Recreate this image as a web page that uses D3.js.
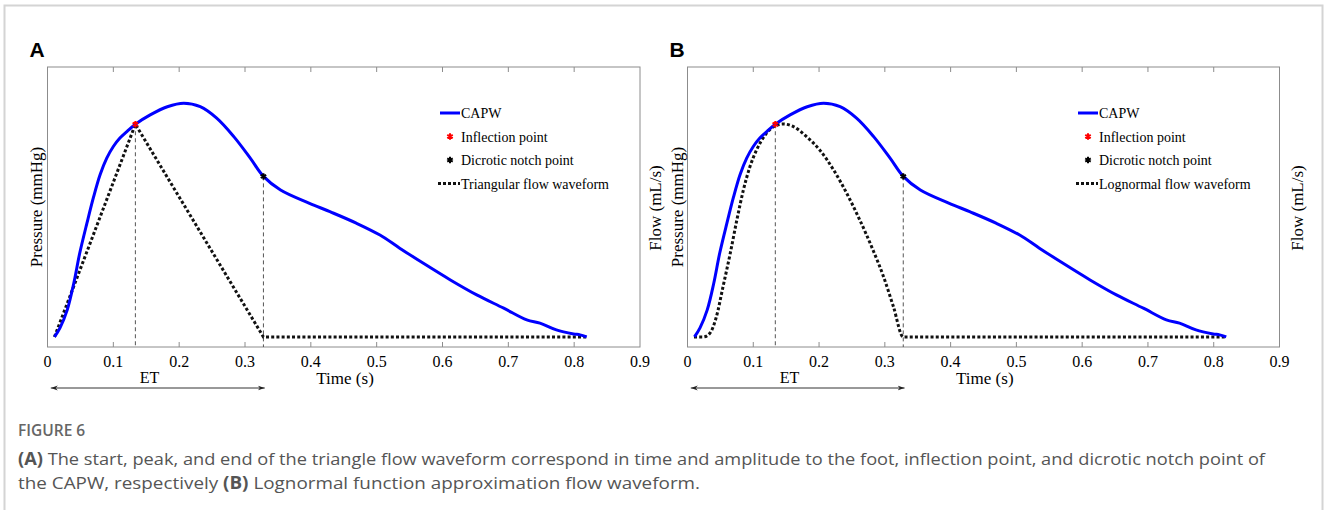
<!DOCTYPE html>
<html>
<head>
<meta charset="utf-8">
<script src="https://cdn.jsdelivr.net/npm/d3@7"></script>
<style>
  body { margin: 0; background: #fff; }
  svg { display: block; }
</style>
</head>
<body>
<svg id="fig" width="1328" height="510"></svg>
<script>
// time axis (s)
var timeTicks = [0, 0.1, 0.2, 0.3, 0.4, 0.5, 0.6, 0.7, 0.8, 0.9];
var tickLabels = ["0", "0.1", "0.2", "0.3", "0.4", "0.5", "0.6", "0.7", "0.8", "0.9"];

// CAPW, pressure normalised (foot = 0, peak = 1)
var capwTime = [0.0106, 0.019, 0.030, 0.040, 0.049, 0.060, 0.070, 0.080, 0.090, 0.100, 0.110, 0.121, 0.1335,
                0.156, 0.182, 0.207, 0.232, 0.257, 0.283, 0.308, 0.328, 0.354, 0.398, 0.429, 0.469,
                0.505, 0.535, 0.571, 0.612, 0.652, 0.693, 0.728, 0.748, 0.773, 0.799, 0.809, 0.819];
var capwPressure = [0.0, 0.039, 0.116, 0.231, 0.359, 0.488, 0.599, 0.695, 0.765, 0.815, 0.851, 0.880, 0.910,
                    0.950, 0.985, 1.0, 0.985, 0.936, 0.857, 0.765, 0.687, 0.629, 0.572, 0.536, 0.487,
                    0.436, 0.380, 0.315, 0.244, 0.180, 0.123, 0.073, 0.059, 0.030, 0.013, 0.009, 0.0];

// triangular flow (panel A)
var triTime = [0.0106, 0.1335, 0.328, 0.819];
var triFlow = [0, 0.910, 0, 0];

// lognormal flow (panel B)
var logTime = [0.0099, 0.024, 0.034, 0.044, 0.054, 0.065, 0.075, 0.085, 0.095, 0.105, 0.118, 0.133,
               0.146, 0.161, 0.181, 0.201, 0.222, 0.242, 0.262, 0.282, 0.298, 0.313, 0.328, 0.819];
var logFlow = [0, 0, 0.016, 0.087, 0.215, 0.358, 0.50, 0.629, 0.729, 0.80, 0.864, 0.903,
               0.911, 0.90, 0.857, 0.80, 0.715, 0.615, 0.50, 0.372, 0.258, 0.13, 0, 0];

var inflectionPt = [0.1335, 0.910];
var dicroticPt = [0.328, 0.687];
var etRange = [0.005, 0.33];

var serif = "'Liberation Serif', 'Times New Roman', serif";
var svg = d3.select("#fig");

// outer frame
svg.append("rect")
  .attr("x", 4.5).attr("y", 5.5).attr("width", 1318).attr("height", 520)
  .attr("fill", "none").attr("stroke", "#d4d4d4").attr("stroke-width", 2);

function drawPanel(letter, xRange, flowT, flowV, flowCurve, flowName, legendX, pressLabelX, flowLabelX) {
    var x = d3.scaleLinear().domain([0, 0.9]).range(xRange);
    var y = d3.scaleLinear().domain([-0.043, 1.155]).range([347, 67]);
    var g = svg.append("g");

    // panel letter
    g.append("text")
      .attr("x", xRange[0] - 18).attr("y", 57)
      .attr("font-family", "'Liberation Sans', Arial, sans-serif")
      .attr("font-weight", "bold").attr("font-size", 21)
      .text(letter);

    // box
    g.append("rect")
      .attr("x", x(0)).attr("y", y.range()[1])
      .attr("width", x(0.9) - x(0)).attr("height", y.range()[0] - y.range()[1])
      .attr("fill", "none").attr("stroke", "#8c8c8c").attr("stroke-width", 1);

    // ticks top & bottom, inward
    var inner = timeTicks.slice(1, -1);
    g.selectAll(".tb").data(inner).enter().append("line")
      .attr("x1", d => x(d)).attr("x2", d => x(d))
      .attr("y1", 347).attr("y2", 342)
      .attr("stroke", "#8c8c8c");
    g.selectAll(".tt").data(inner).enter().append("line")
      .attr("x1", d => x(d)).attr("x2", d => x(d))
      .attr("y1", 67).attr("y2", 72)
      .attr("stroke", "#8c8c8c");

    g.selectAll(".tl").data(timeTicks).enter().append("text")
      .attr("x", d => x(d)).attr("y", 367)
      .attr("text-anchor", "middle")
      .attr("font-family", serif).attr("font-size", 16)
      .text((d, i) => tickLabels[i]);

    g.append("text")
      .attr("x", x(0.452)).attr("y", 384)
      .attr("text-anchor", "middle")
      .attr("font-family", serif).attr("font-size", 17)
      .text("Time (s)");

    // axis titles
    g.append("text")
      .attr("transform", "translate(" + pressLabelX + ",207) rotate(-90)")
      .attr("text-anchor", "middle")
      .attr("font-family", serif).attr("font-size", 17)
      .text("Pressure (mmHg)");
    g.append("text")
      .attr("transform", "translate(" + flowLabelX + ",208) rotate(-90)")
      .attr("text-anchor", "middle")
      .attr("font-family", serif).attr("font-size", 17)
      .text("Flow (mL/s)");

    // ET arrow
    var defsId = "arr" + letter;
    var defs = svg.append("defs");
    defs.append("marker").attr("id", defsId + "e")
      .attr("viewBox", "0 0 10 10").attr("refX", 10).attr("refY", 5)
      .attr("markerWidth", 7).attr("markerHeight", 7).attr("orient", "auto")
      .append("path").attr("d", "M0,1.5 L10,5 L0,8.5 L3,5 Z").attr("fill", "#222");
    defs.append("marker").attr("id", defsId + "s")
      .attr("viewBox", "0 0 10 10").attr("refX", 0).attr("refY", 5)
      .attr("markerWidth", 7).attr("markerHeight", 7).attr("orient", "auto")
      .append("path").attr("d", "M10,1.5 L0,5 L10,8.5 L7,5 Z").attr("fill", "#222");
    g.append("line")
      .attr("x1", x(etRange[0])).attr("x2", x(etRange[1]))
      .attr("y1", 388).attr("y2", 388)
      .attr("stroke", "#333").attr("stroke-width", 1)
      .attr("marker-start", "url(#" + defsId + "s)")
      .attr("marker-end", "url(#" + defsId + "e)");
    g.append("text")
      .attr("x", x(0.155)).attr("y", 383)
      .attr("text-anchor", "middle")
      .attr("font-family", serif).attr("font-size", 16)
      .text("ET");

    // dashed verticals
    [inflectionPt, dicroticPt].forEach(function(p) {
        g.append("line")
          .attr("x1", x(p[0])).attr("x2", x(p[0]))
          .attr("y1", y(p[1])).attr("y2", 347)
          .attr("stroke", "#555").attr("stroke-width", 1)
          .attr("stroke-dasharray", "4,3");
    });

    // flow curve
    var flowLine = d3.line().x(d => x(d[0])).y(d => y(d[1])).curve(flowCurve);
    g.append("path")
      .attr("d", flowLine(flowT.map((t, i) => [t, flowV[i]])))
      .attr("fill", "none").attr("stroke", "#111").attr("stroke-width", 3)
      .attr("stroke-dasharray", "3,2.2");

    // CAPW
    var capLine = d3.line().x(d => x(d[0])).y(d => y(d[1])).curve(d3.curveCatmullRom.alpha(0.5));
    g.append("path")
      .attr("d", capLine(capwTime.map((t, i) => [t, capwPressure[i]])))
      .attr("fill", "none").attr("stroke", "#0000ff").attr("stroke-width", 3);

    // markers
    var star = d3.symbol().type(d3.symbolAsterisk).size(28);
    g.append("path").attr("d", star())
      .attr("transform", "translate(" + x(inflectionPt[0]) + "," + y(inflectionPt[1]) + ")")
      .attr("stroke", "#ff0000").attr("stroke-width", 2).attr("fill", "none");
    g.append("path").attr("d", star())
      .attr("transform", "translate(" + x(dicroticPt[0]) + "," + y(dicroticPt[1]) + ")")
      .attr("stroke", "#000").attr("stroke-width", 2).attr("fill", "none");

    // legend
    var lg = g.append("g").attr("font-family", serif).attr("font-size", 14);
    var rows = [113, 136.5, 160, 183.5];
    lg.append("line").attr("x1", legendX).attr("x2", legendX + 20)
      .attr("y1", rows[0]).attr("y2", rows[0])
      .attr("stroke", "#0000ff").attr("stroke-width", 3);
    lg.append("path").attr("d", star())
      .attr("transform", "translate(" + (legendX + 10) + "," + rows[1] + ")")
      .attr("stroke", "#ff0000").attr("stroke-width", 2).attr("fill", "none");
    lg.append("path").attr("d", star())
      .attr("transform", "translate(" + (legendX + 10) + "," + rows[2] + ")")
      .attr("stroke", "#000").attr("stroke-width", 2).attr("fill", "none");
    lg.append("line").attr("x1", legendX - 2).attr("x2", legendX + 20)
      .attr("y1", rows[3]).attr("y2", rows[3])
      .attr("stroke", "#111").attr("stroke-width", 3).attr("stroke-dasharray", "3,2");
    ["CAPW", "Inflection point", "Dicrotic notch point", flowName].forEach(function(t, i) {
        lg.append("text").attr("x", legendX + 21).attr("y", rows[i] + 5).text(t);
    });
}

drawPanel("A", [47.5, 640], triTime, triFlow, d3.curveLinear, "Triangular flow waveform", 440, 42, 661);
drawPanel("B", [687.5, 1279.5], logTime, logFlow, d3.curveMonotoneX, "Lognormal flow waveform", 1078, 683, 1303);

// caption
var cap = svg.append("g").attr("font-family", "'Open Sans', sans-serif").attr("fill", "#555");
cap.append("text").attr("x", 18).attr("y", 436).attr("font-size", 15.5)
  .attr("font-weight", 600).attr("fill", "#666").text("FIGURE 6");
var l1 = cap.append("text").attr("x", 18).attr("y", 465).attr("font-size", 17)
  .attr("textLength", 1247).attr("lengthAdjust", "spacingAndGlyphs");
l1.append("tspan").attr("font-weight", "bold").text("(A)");
l1.append("tspan").text(" The start, peak, and end of the triangle flow waveform correspond in time and amplitude to the foot, inflection point, and dicrotic notch point of");
var l2 = cap.append("text").attr("x", 18).attr("y", 489).attr("font-size", 17)
  .attr("textLength", 682).attr("lengthAdjust", "spacingAndGlyphs");
l2.append("tspan").text("the CAPW, respectively ");
l2.append("tspan").attr("font-weight", "bold").text("(B)");
l2.append("tspan").text(" Lognormal function approximation flow waveform.");
</script>
</body>
</html>
